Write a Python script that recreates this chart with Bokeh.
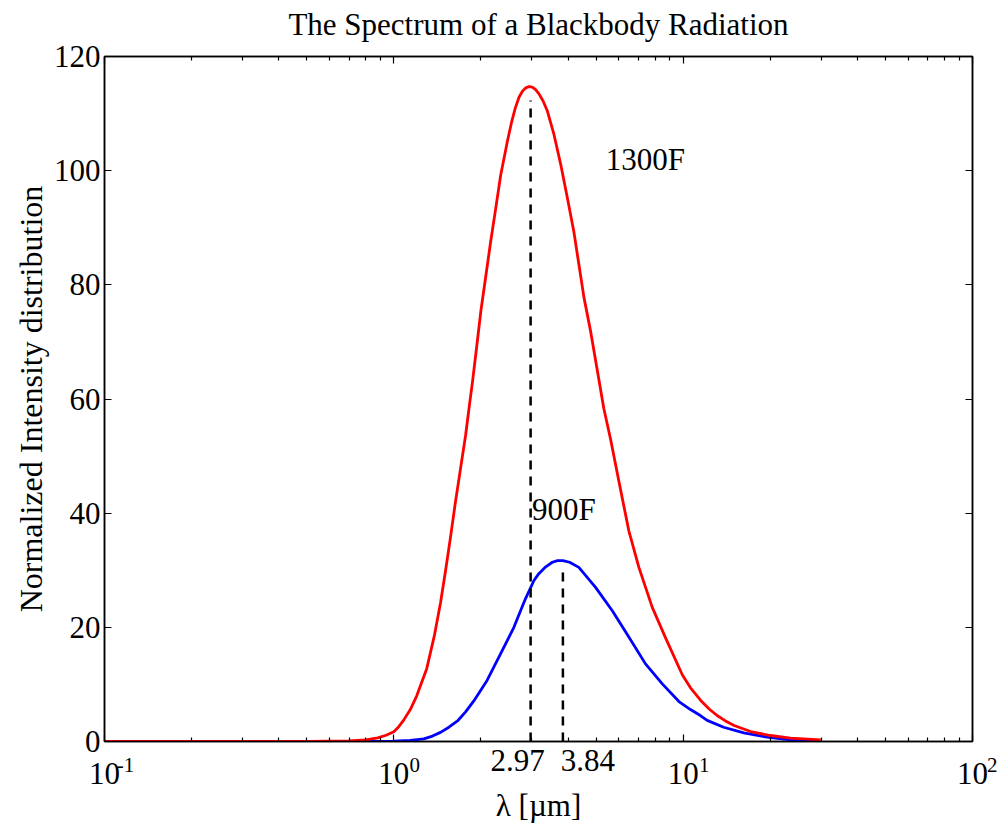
from bokeh.plotting import figure
from bokeh.models import LogAxis, LinearAxis, FixedTicker, Label, Range1d, CustomJSTickFormatter
from bokeh.embed import file_html
from bokeh.resources import INLINE

FONT = "Liberation Serif"

# ---- data ----
red_wavelength = [0.1, 0.2, 0.3, 0.5, 0.7, 0.8, 0.88, 0.94, 1.0, 1.04, 1.08, 1.14, 1.2, 1.3,
                  1.38, 1.45, 1.51, 1.57, 1.63, 1.70, 1.77, 1.83, 1.87, 1.93, 2.0, 2.08, 2.16,
                  2.25, 2.34, 2.47, 2.55, 2.63, 2.71, 2.79, 2.86, 2.92, 2.97, 3.02, 3.09, 3.17,
                  3.28, 3.39, 3.57, 3.77, 3.98, 4.19, 4.36, 4.54, 4.79, 5.05, 5.32, 5.61, 6.0,
                  6.49, 7.03, 7.82, 8.7, 9.93, 10.6, 11.5, 12.3, 13.1, 14.0, 15.0, 17.1, 20.0,
                  23.5, 29.9]
red_intensity = [0.0, 0.0, 0.0, 0.02, 0.1, 0.3, 0.65, 1.1, 1.7, 2.6, 3.7, 5.6, 8.0, 12.8,
                 18.5, 24.3, 30.0, 35.8, 41.7, 47.8, 53.6, 59.4, 63.0, 68.8, 75.5, 81.6, 87.5,
                 93.4, 99.2, 105.2, 108.4, 111.0, 112.9, 114.0, 114.5, 114.7, 114.7, 114.6,
                 114.2, 113.5, 112.2, 110.5, 106.5, 101.2, 95.2, 89.3, 83.6, 77.8, 71.8, 65.0,
                 58.3, 53.0, 45.5, 36.9, 30.5, 23.5, 18.1, 11.7, 9.4, 7.2, 5.7, 4.55, 3.6, 2.8,
                 1.75, 1.05, 0.6, 0.3]

blue_wavelength = [0.1, 0.3, 0.6, 0.9, 1.0, 1.14, 1.27, 1.36, 1.45, 1.55, 1.66, 1.77, 1.89,
                   2.1, 2.34, 2.6, 2.85, 3.05, 3.17, 3.35, 3.53, 3.68, 3.84, 4.05, 4.36, 4.98,
                   5.69, 6.49, 7.41, 8.47, 9.67, 10.6, 11.5, 12.1, 13.8, 16.2, 19.5, 23.5, 29.5]
blue_intensity = [0.0, 0.0, 0.0, 0.0, 0.05, 0.18, 0.47, 0.95, 1.6, 2.5, 3.6, 5.2, 7.1,
                  10.7, 15.4, 20.0, 25.0, 28.2, 29.4, 30.6, 31.4, 31.7, 31.7, 31.4, 30.5, 27.0,
                  22.9, 18.3, 13.6, 10.1, 7.0, 5.6, 4.5, 3.7, 2.5, 1.5, 0.75, 0.3, 0.18]

peak_wavelength = [2.97, 3.84]
peak_line_top = [112.3, 30.5]
peak_labels = ["2.97", "3.84"]

curve_names = ["1300F", "900F"]
curve_label_x = [5.4, 3.0]
curve_label_y = [102.0, 40.6]

y_ticks = [0, 20, 40, 60, 80, 100, 120]
x_decades = [-1, 0, 1, 2]
x_decade_base = ["10", "10", "10", "10"]
x_decade_sup = ["-1", "0", "1", "2"]

title_text = "The Spectrum of a Blackbody Radiation"
x_label_text = "λ [µm]"
y_label_text = "Normalized Intensity distribution"

# ---- layout ----
W, H = 997, 825
LEFT, RIGHT, TOP, BOTTOM = 104, 25, 56, 84
x_start, x_end = 0.1, 100.0
px_per_decade = (W - LEFT - RIGHT) / 3.0

p = figure(width=W, height=H, x_axis_type="log",
           x_range=Range1d(x_start, x_end), y_range=Range1d(0, 120),
           output_backend="svg", toolbar_location=None,
           min_border_left=LEFT, min_border_right=RIGHT, min_border_top=TOP,
           min_border_bottom=BOTTOM)
p.grid.visible = False
p.outline_line_color = "black"
p.outline_line_width = 1.5

major_x = [10.0 ** d for d in x_decades]
minor_x = [k * 10.0 ** d for d in x_decades[:-1] for k in range(2, 10)]


def blank():
    return CustomJSTickFormatter(code="return ''")


def ticks_only_x(ax):
    ax.ticker = FixedTicker(ticks=major_x, minor_ticks=minor_x)
    ax.formatter = blank()
    ax.major_tick_in = 7
    ax.major_tick_out = 0
    ax.minor_tick_in = 4
    ax.minor_tick_out = 0
    ax.axis_line_width = 1.5
    ax.major_tick_line_width = 1.2
    ax.minor_tick_line_width = 1.2
    ax.major_label_standoff = 0
    ax.major_label_text_font_size = "1px"


def labels_only_x(ax, ticks, labels, size, standoff):
    ax.ticker = FixedTicker(ticks=ticks, minor_ticks=[])
    ax.formatter = CustomJSTickFormatter(args=dict(labels=labels), code="return labels[index]")
    ax.axis_line_color = None
    ax.major_tick_line_color = None
    ax.minor_tick_line_color = None
    ax.major_tick_in = 0
    ax.major_tick_out = 0
    ax.minor_tick_in = 0
    ax.minor_tick_out = 0
    ax.major_label_text_font = FONT
    ax.major_label_text_font_size = size
    ax.major_label_text_color = "black"
    ax.major_label_standoff = standoff


def style_y(ax, labels=True):
    ax.ticker = FixedTicker(ticks=y_ticks, minor_ticks=[])
    ax.major_tick_in = 7
    ax.major_tick_out = 0
    ax.minor_tick_in = 0
    ax.minor_tick_out = 0
    ax.axis_line_width = 1.5
    ax.major_tick_line_width = 1.2
    if labels:
        ax.major_label_text_font = FONT
        ax.major_label_text_font_size = "31px"
        ax.major_label_text_color = "black"
        ax.major_label_standoff = 4
    else:
        ax.formatter = blank()
        ax.major_label_standoff = 0
        ax.major_label_text_font_size = "1px"


# bottom: tick axis, then peak labels, decade bases, decade exponents (+ axis label)
ticks_only_x(p.xaxis[0])

peak_shift_px = [-13, 25]
peak_label_pos = [w * 10 ** (dx / px_per_decade) for w, dx in zip(peak_wavelength, peak_shift_px)]
ax_peak = LogAxis()
labels_only_x(ax_peak, peak_label_pos, peak_labels, "31px", 8)
p.add_layout(ax_peak, "below")

ax_base = LogAxis()
labels_only_x(ax_base, major_x, x_decade_base, "31px", -11)
p.add_layout(ax_base, "below")

# exponents sit to the right of each "10": two em spaces push the glyphs right of the tick
EM2 = "\u2003\u2003"
ax_sup = LogAxis()
labels_only_x(ax_sup, major_x, [EM2 + s for s in x_decade_sup], "21px", -34)
ax_sup.axis_label = x_label_text
ax_sup.axis_label_text_font = FONT
ax_sup.axis_label_text_font_size = "31px"
ax_sup.axis_label_text_font_style = "normal"
ax_sup.axis_label_text_color = "black"
ax_sup.axis_label_standoff = 8
p.add_layout(ax_sup, "below")

# top: ticks only, with the chart title placed as this axis' label
top_axis = LogAxis()
ticks_only_x(top_axis)
top_axis.axis_label = title_text
top_axis.axis_label_text_font = FONT
top_axis.axis_label_text_font_size = "31px"
top_axis.axis_label_text_font_style = "normal"
top_axis.axis_label_text_color = "black"
top_axis.axis_label_standoff = 15
p.add_layout(top_axis, "above")

style_y(p.yaxis[0])
p.yaxis[0].axis_label = y_label_text
p.yaxis[0].axis_label_text_font = FONT
p.yaxis[0].axis_label_text_font_size = "32px"
p.yaxis[0].axis_label_text_font_style = "normal"
p.yaxis[0].axis_label_text_color = "black"
p.yaxis[0].axis_label_standoff = 2

right_axis = LinearAxis()
style_y(right_axis, labels=False)
p.add_layout(right_axis, "right")

# ---- curves ----
p.line(blue_wavelength, blue_intensity, line_color="#0000ff", line_width=2.8, line_join="round")
p.line(red_wavelength, red_intensity, line_color="#ff0000", line_width=2.8, line_join="round")
p.segment(x0=peak_wavelength, y0=[0] * len(peak_wavelength), x1=peak_wavelength, y1=peak_line_top,
          line_color="black", line_width=2.5, line_dash="9 7")

# ---- in-plot texts ----
for name, lx, ly in zip(curve_names, curve_label_x, curve_label_y):
    p.add_layout(Label(x=lx, y=ly, text=name, text_font=FONT, text_font_size="31px",
                       text_color="black", text_align="left", text_baseline="middle"))

open("out.html", "w").write(file_html(p, INLINE))
